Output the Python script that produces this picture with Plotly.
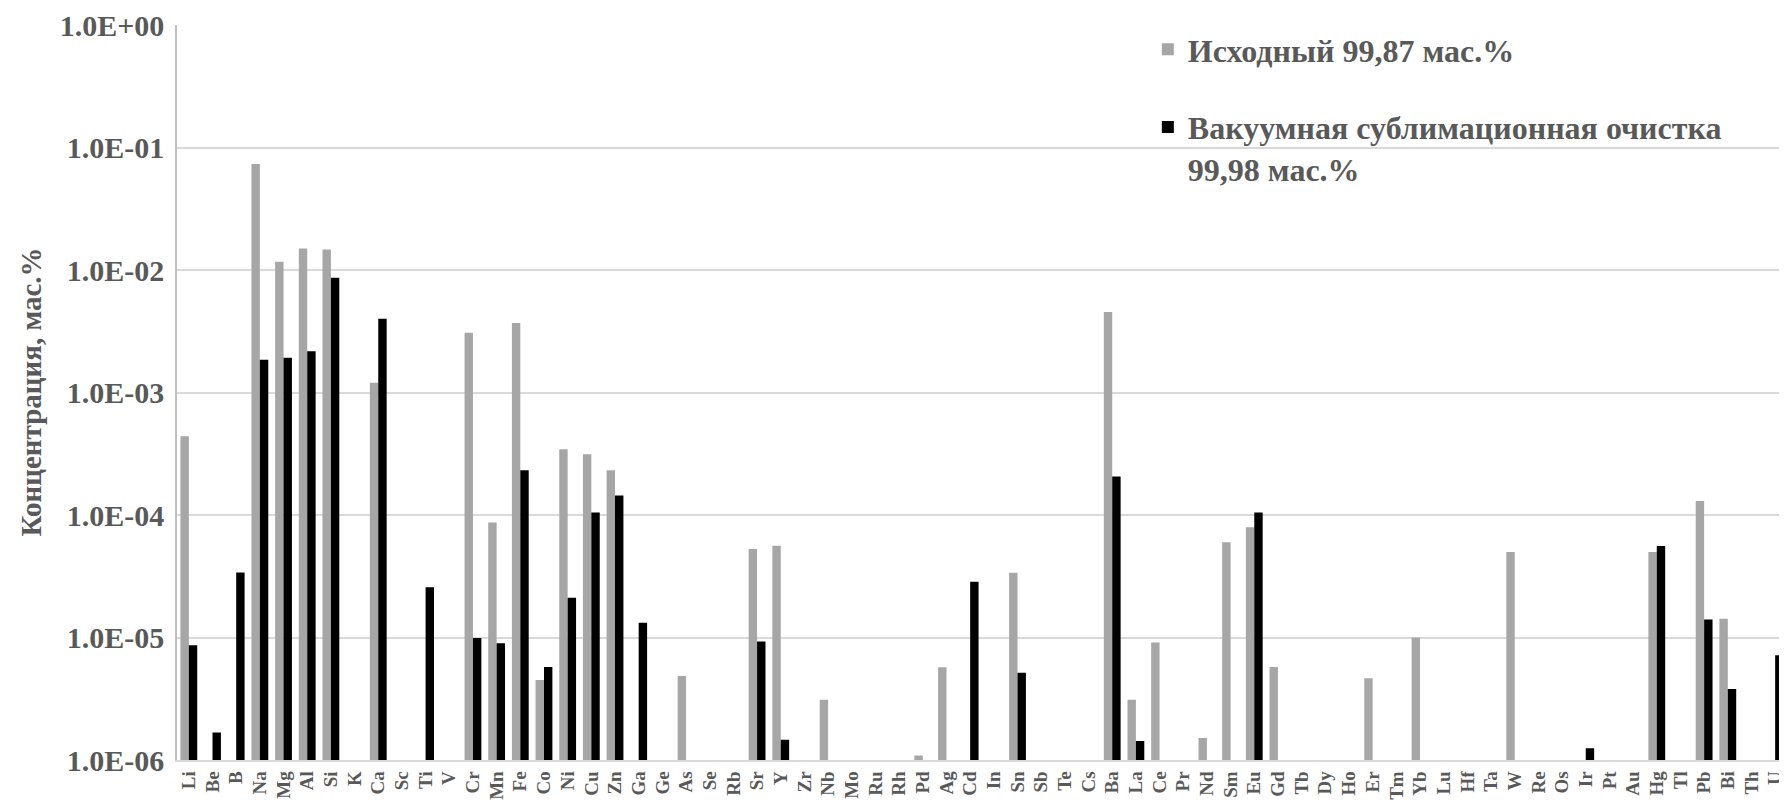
import plotly.graph_objects as go

elements = ["Li", "Be", "B", "Na", "Mg", "Al", "Si", "K", "Ca", "Sc", "Ti", "V", "Cr", "Mn", "Fe",
            "Co", "Ni", "Cu", "Zn", "Ga", "Ge", "As", "Se", "Rb", "Sr", "Y", "Zr", "Nb", "Mo", "Ru",
            "Rh", "Pd", "Ag", "Cd", "In", "Sn", "Sb", "Te", "Cs", "Ba", "La", "Ce", "Pr", "Nd", "Sm",
            "Eu", "Gd", "Tb", "Dy", "Ho", "Er", "Tm", "Yb", "Lu", "Hf", "Ta", "W", "Re", "Os", "Ir",
            "Pt", "Au", "Hg", "Tl", "Pb", "Bi", "Th", "U"]

initial = [4.4e-4, None, None, 7.35e-2, 1.17e-2, 1.5e-2, 1.47e-2, None, 1.2e-3, None, None, None,
           3.07e-3, 8.7e-5, 3.7e-3, 4.5e-6, 3.44e-4, 3.13e-4, 2.32e-4, None, None, 4.84e-6, None,
           None, 5.27e-5, 5.6e-5, None, 3.1e-6, None, 9e-7, None, 1.09e-6, 5.73e-6, None, None,
           3.37e-5, None, None, None, 4.55e-3, 3.1e-6, 9.1e-6, 9e-7, 1.51e-6, 6.0e-5, 7.96e-5,
           5.75e-6, 9e-7, 9e-7, 9e-7, 4.64e-6, 9e-7, 1.0e-5, 9e-7, None, None, 5.0e-5, 9e-7, 9e-7,
           9e-7, None, None, 5.0e-5, None, 1.3e-4, 1.42e-5, 9e-7, 9e-7]

purified = [8.65e-6, 1.68e-6, 3.4e-5, 1.85e-3, 1.92e-3, 2.17e-3, 8.65e-3, None, 4.0e-3, None,
            2.57e-5, None, 9.9e-6, 8.97e-6, 2.32e-4, 5.75e-6, 2.11e-5, 1.05e-4, 1.44e-4, 1.32e-5,
            None, None, None, None, 9.27e-6, 1.46e-6, None, None, None, 9e-7, None, None, None,
            2.85e-5, None, 5.15e-6, None, None, None, 2.06e-4, 1.43e-6, None, None, None, None,
            1.05e-4, None, None, None, 9e-7, None, 9e-7, None, None, None, None, 9e-7, None, None,
            1.25e-6, None, None, 5.58e-5, None, 1.4e-5, 3.8e-6, 9e-7, 7.17e-6]

tick_vals = [1e-6, 1e-5, 1e-4, 1e-3, 1e-2, 1e-1, 1.0]
tick_text = ["1.0E-06", "1.0E-05", "1.0E-04", "1.0E-03", "1.0E-02", "1.0E-01", "1.0E+00"]

name_initial = "Исходный 99,87 мас.%"
name_purified = "Вакуумная сублимационная очистка<br>99,98 мас.%"
y_title = "Концентрация, мас.%"

FONT = "Liberation Serif"
TXT = "#595959"

fig = go.Figure()
fig.add_trace(go.Bar(x=elements, y=initial, name=name_initial,
                     marker=dict(color="#a6a6a6", line=dict(width=0)), legendgroup="a"))
fig.add_trace(go.Bar(x=elements, y=purified, name=name_purified,
                     marker=dict(color="#000000", line=dict(width=0)), legendgroup="b"))

# page body has an 8px margin: size the figure so it fits the window exactly
fig.update_layout(
    width=1779, height=794,
    margin=dict(l=169, r=0, t=17, b=42, autoexpand=False),
    paper_bgcolor="white", plot_bgcolor="white",
    barmode="group", bargap=0.29, bargroupgap=0.0,
    font=dict(family=FONT, color=TXT),
    legend=dict(x=0.603, y=1.004, xanchor="left", yanchor="top", valign="top",
                font=dict(family=FONT, size=32, color=TXT, weight="bold"),
                bgcolor="rgba(0,0,0,0)", tracegroupgap=33, traceorder="grouped"),
    xaxis=dict(type="category", tickangle=-90, showgrid=False, ticks="",
               tickmode="array", tickvals=elements, ticktext=elements,
               tickfont=dict(family=FONT, size=19, color=TXT, weight="bold"),
               ticklabelstandoff=2,
               showline=True, linecolor="#d9d9d9", linewidth=1.5, automargin=False),
    yaxis=dict(type="log", range=[-6, 0], tickvals=tick_vals, ticktext=tick_text,
               showgrid=True, gridcolor="#d9d9d9", gridwidth=1.5, ticks="",
               tickfont=dict(family=FONT, size=30, color=TXT, weight="bold"),
               ticklabeloverflow="allow",
               showline=True, linecolor="#bfbfbf", linewidth=1.5, automargin=False,
               ticklabelstandoff=5, zeroline=False),
)

fig.add_annotation(text=y_title, xref="paper", yref="paper", x=(22 - 169) / 1610, y=0.5,
                   textangle=-90, showarrow=False, xanchor="center", yanchor="middle",
                   font=dict(family=FONT, size=29, color=TXT, weight="bold"))

fig.write_html("out.html")
